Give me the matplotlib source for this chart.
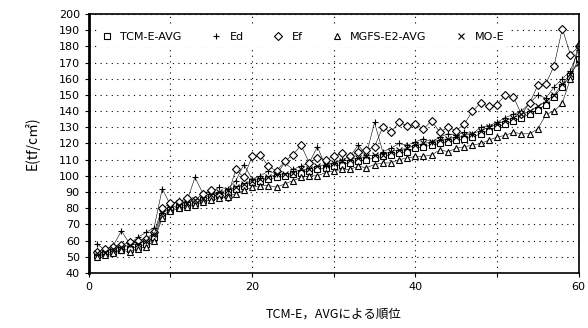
import matplotlib.pyplot as plt
import numpy as np

plt.rcParams['font.family'] = ['DejaVu Sans', 'Noto Sans CJK JP']

rank = np.arange(1, 61)

tcm_e_avg = [51, 52, 53, 54, 55, 56, 58, 62, 75, 79,
             81, 82, 83, 85, 87, 88, 90, 92, 94, 96,
             97, 98, 99, 100, 101, 102, 103, 104, 105, 106,
             107, 108, 109, 110, 111, 112, 113, 114, 115, 117,
             118, 119, 120, 121, 122, 123, 124, 126, 128, 130,
             132, 134, 136, 138, 141, 144, 149, 155, 162, 172]
ed = [58, 54, 57, 66, 58, 62, 65, 68, 92, 82,
      85, 84, 99, 89, 90, 93, 92, 97, 107, 98,
      100, 103, 101, 108, 104, 106, 108, 118, 106, 108,
      110, 112, 119, 113, 133, 115, 117, 120, 119, 121,
      123, 121, 124, 126, 125, 127, 126, 130, 131, 133,
      136, 138, 140, 145, 150, 148, 155, 160, 165, 178]
ef = [53, 55, 56, 57, 59, 60, 61, 65, 80, 83,
      84, 86, 85, 89, 91, 88, 87, 104, 99, 112,
      113, 106, 103, 109, 113, 119, 108, 111, 110, 112,
      114, 112, 115, 116, 118, 130, 127, 133, 131, 132,
      129, 134, 127, 130, 128, 132, 140, 145, 143, 144,
      150, 149, 138, 145, 156, 157, 168, 191, 175, 180]
mgfs_e2_avg = [50, 51, 52, 54, 53, 55, 56, 60, 74, 78,
               80, 81, 82, 84, 85, 86, 87, 89, 91, 93,
               94, 94, 93, 95, 97, 99, 100, 100, 102, 103,
               104, 104, 106, 105, 107, 108, 108, 110, 111, 112,
               112, 113, 116, 115, 117, 118, 119, 120, 122, 124,
               125, 127, 126, 126, 129, 138, 140, 145, 160, 182]
mo_e = [52, 53, 55, 56, 57, 58, 60, 64, 77, 80,
        82, 83, 85, 86, 88, 90, 91, 93, 95, 97,
        98, 99, 101, 101, 102, 104, 104, 106, 107, 108,
        109, 110, 111, 112, 113, 113, 115, 116, 117, 119,
        120, 121, 122, 123, 124, 125, 126, 128, 130, 132,
        134, 136, 138, 140, 143, 146, 150, 157, 163, 170]

series = [
    (tcm_e_avg, "s", "TCM-E-AVG"),
    (ed, "+", "Ed"),
    (ef, "D", "Ef"),
    (mgfs_e2_avg, "^", "MGFS-E2-AVG"),
    (mo_e, "x", "MO-E"),
]

fig = plt.figure(figsize=(5.88, 3.28), dpi=100)
ax = fig.add_axes([0.151, 0.168, 0.833, 0.789])

for vals, m, lab in series:
    ms = 4 if m == "D" else 5
    ax.plot(rank, vals, color="black", lw=0.4, marker=m, ms=ms,
            mfc="white", mec="black", mew=0.8, label=lab)

ax.set_xlim(0, 60)
ax.set_ylim(40, 200)
ax.set_xticks(range(0, 61, 10))
ax.set_xticklabels(["0", "", "20", "", "40", "", "60"])
ax.set_yticks(range(40, 201, 10))
ax.tick_params(labelsize=8, length=3, width=0.8)
ax.grid(True, color="black", linestyle=(0, (1, 4)), linewidth=0.8)
for s in ax.spines.values():
    s.set_linewidth(1.2)
ax.spines["left"].set_linewidth(2)

leg = ax.legend(ncol=5, loc="upper left", bbox_to_anchor=(0.01, 0.96),
                frameon=True, fontsize=8, handlelength=1.0, handletextpad=0.7,
                columnspacing=2.6, borderaxespad=0.3, edgecolor="none",
                facecolor="white", framealpha=1.0)
for h in leg.get_lines():
    h.set_linestyle("none")

ax.set_ylabel("E(tf/c㎡)", fontsize=10, family=['Noto Sans CJK JP', 'DejaVu Sans'], labelpad=14)
ax.set_xlabel("TCM-E，AVGによる順位", fontsize=9, family=['Noto Sans CJK JP', 'DejaVu Sans'], labelpad=11)

fig.savefig("out.png", dpi=100)
